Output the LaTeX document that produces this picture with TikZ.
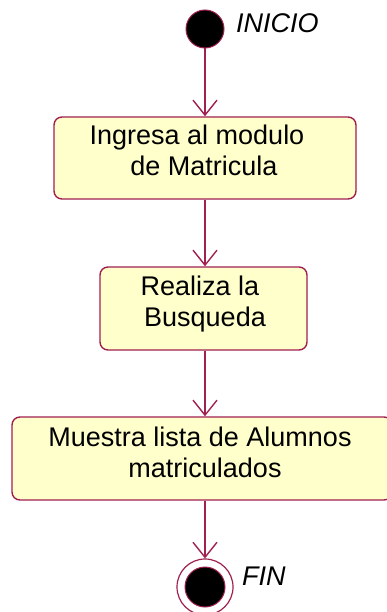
\documentclass[tikz,border=0pt]{standalone}
\usepackage{fontspec}
\setmainfont{Liberation Sans}
\usetikzlibrary{arrows.meta}
\definecolor{umlline}{RGB}{160,32,80}
\definecolor{umlfill}{RGB}{255,255,204}
\begin{document}
\begin{tikzpicture}[x=1pt,y=-1pt,
  actbox/.style={draw=umlline, fill=umlfill, line width=1.4pt, rounded corners=8pt, inner sep=0pt},
  acttext/.style={font=\fontsize{27}{31}\selectfont, inner sep=0pt, anchor=base},
  flow/.style={draw=umlline, line width=1.4pt, -{Straight Barb[length=15pt,width=24pt,line width=1.4pt]}},
  lbl/.style={font=\fontsize{27}{31}\selectfont\itshape, inner sep=0pt, anchor=base west}]
\useasboundingbox (0,0) rectangle (387,612);
\fill[white] (0,0) rectangle (387,612);
% start
\node[circle, draw=umlline, fill=black, line width=1pt, minimum size=38pt, inner sep=0pt] (start) at (205,29) {};
\node[lbl] (inicio) at (236,33) {INICIO};
% boxes
\node[actbox, minimum width=302pt, minimum height=82pt] (b1) at (205,158) {};
\node[acttext] (b1a) at (197,145) {Ingresa al modulo};
\node[acttext] (b1b) at (204,176) {de Matricula};
\node[actbox, minimum width=207pt, minimum height=83pt] (b2) at (203.5,308.5) {};
\node[acttext] (b2a) at (200,295) {Realiza la};
\node[acttext] (b2b) at (205,326) {Busqueda};
\node[actbox, minimum width=380pt, minimum height=83pt] (b3) at (202,458.5) {};
\node[acttext] (b3a) at (200,446) {Muestra lista de Alumnos};
\node[acttext] (b3b) at (205,477) {matriculados};
% end
\node[circle, draw=umlline, fill=white, line width=1.2pt, minimum size=56pt, inner sep=0pt] (endo) at (205,587) {};
\node[circle, draw=umlline, fill=black, line width=1pt, minimum size=40pt, inner sep=0pt] (endi) at (205,587) {};
\node[lbl] (fin) at (242,585) {FIN};
% flows
\draw[flow] (start.south) -- (b1.north);
\draw[flow] (b1.south) -- (b2.north -| b1.south);
\draw[flow] (b2.south -| b1.south) -- (b3.north -| b1.south);
\draw[flow] (b3.south -| b1.south) -- (endo.north);
\end{tikzpicture}
\end{document}
